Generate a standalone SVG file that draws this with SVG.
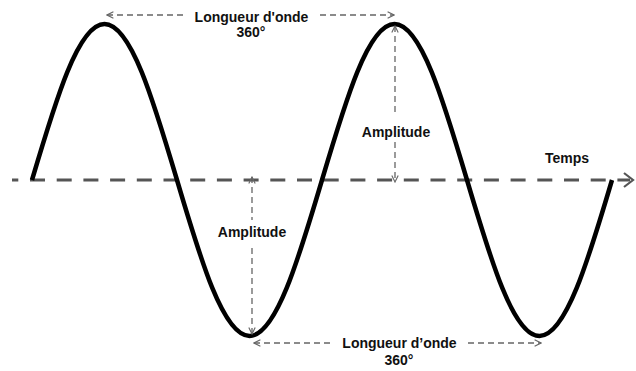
<svg xmlns="http://www.w3.org/2000/svg" width="636" height="371" viewBox="0 0 636 371">
<style>
.lbl{font-family:"Liberation Sans",Arial,sans-serif;font-weight:bold;font-size:14px;fill:#111;text-anchor:middle}
.dim{stroke:#666;stroke-width:1.3;stroke-dasharray:6 4;fill:none}
.axis{stroke:#555;stroke-width:3;stroke-dasharray:15 11.7;stroke-dashoffset:8.7;fill:none}
.wave{stroke:#000;stroke-width:4.5;fill:none;stroke-linecap:butt}
</style>
<defs>
<marker id="chev" viewBox="0 0 10 10" refX="9" refY="5" markerWidth="8" markerHeight="8" markerUnits="userSpaceOnUse" orient="auto-start-reverse">
<path d="M1,1 L9,5 L1,9" fill="none" stroke="#666" stroke-width="1.4"/>
</marker>
<marker id="achev" viewBox="0 0 10 10" refX="9" refY="5" markerWidth="12" markerHeight="14" markerUnits="userSpaceOnUse" orient="auto">
<path d="M1,1 L9,5 L1,9" fill="none" stroke="#555" stroke-width="1.6"/>
</marker>
</defs>
<g id="axis">
<line class="axis" x1="12" y1="180" x2="630" y2="180"/>
<polyline points="624,173 633,180 624,187" fill="none" stroke="#555" stroke-width="2.2"/>
</g>
<g id="wave">
<path class="wave" d="M32,180 C55.64,100.08 78.26,24 104.5,24 C130.74,24 153.36,100.08 177,180 C200.64,259.92 223.26,336 249.5,336 C275.74,336 298.36,259.92 322,180 C345.64,100.08 368.26,24 394.5,24 C420.74,24 443.36,100.08 467,180 C490.64,259.92 513.26,336 539.5,336 C565.74,336 588.36,259.92 612,180"/>
</g>
<g id="connectors">
<line class="dim" x1="107" y1="15" x2="183" y2="15" marker-start="url(#chev)"/>
<line class="dim" x1="320" y1="15" x2="394" y2="15" marker-end="url(#chev)"/>
<line class="dim" x1="395" y1="26" x2="395" y2="113" marker-start="url(#chev)"/>
<line class="dim" x1="395" y1="142" x2="395" y2="182" marker-end="url(#chev)"/>
<line class="dim" x1="252" y1="177" x2="252" y2="220" marker-start="url(#chev)"/>
<line class="dim" x1="252" y1="248" x2="252" y2="334" marker-end="url(#chev)"/>
<line class="dim" x1="254" y1="343" x2="330" y2="343" marker-start="url(#chev)"/>
<line class="dim" x1="468" y1="343" x2="541" y2="343" marker-end="url(#chev)"/>
</g>
<g id="label-wavelength-top">
<text class="lbl" x="251.5" y="22">Longueur d'onde</text>
<text class="lbl" x="251" y="37">360°</text>
</g>
<g id="label-amplitude-top">
<text class="lbl" x="396" y="137">Amplitude</text>
</g>
<g id="label-temps">
<text class="lbl" x="567" y="163">Temps</text>
</g>
<g id="label-amplitude-bottom">
<text class="lbl" x="252" y="237">Amplitude</text>
</g>
<g id="label-wavelength-bottom">
<text class="lbl" x="399.5" y="348">Longueur d’onde</text>
<text class="lbl" x="399" y="365">360°</text>
</g>
</svg>
